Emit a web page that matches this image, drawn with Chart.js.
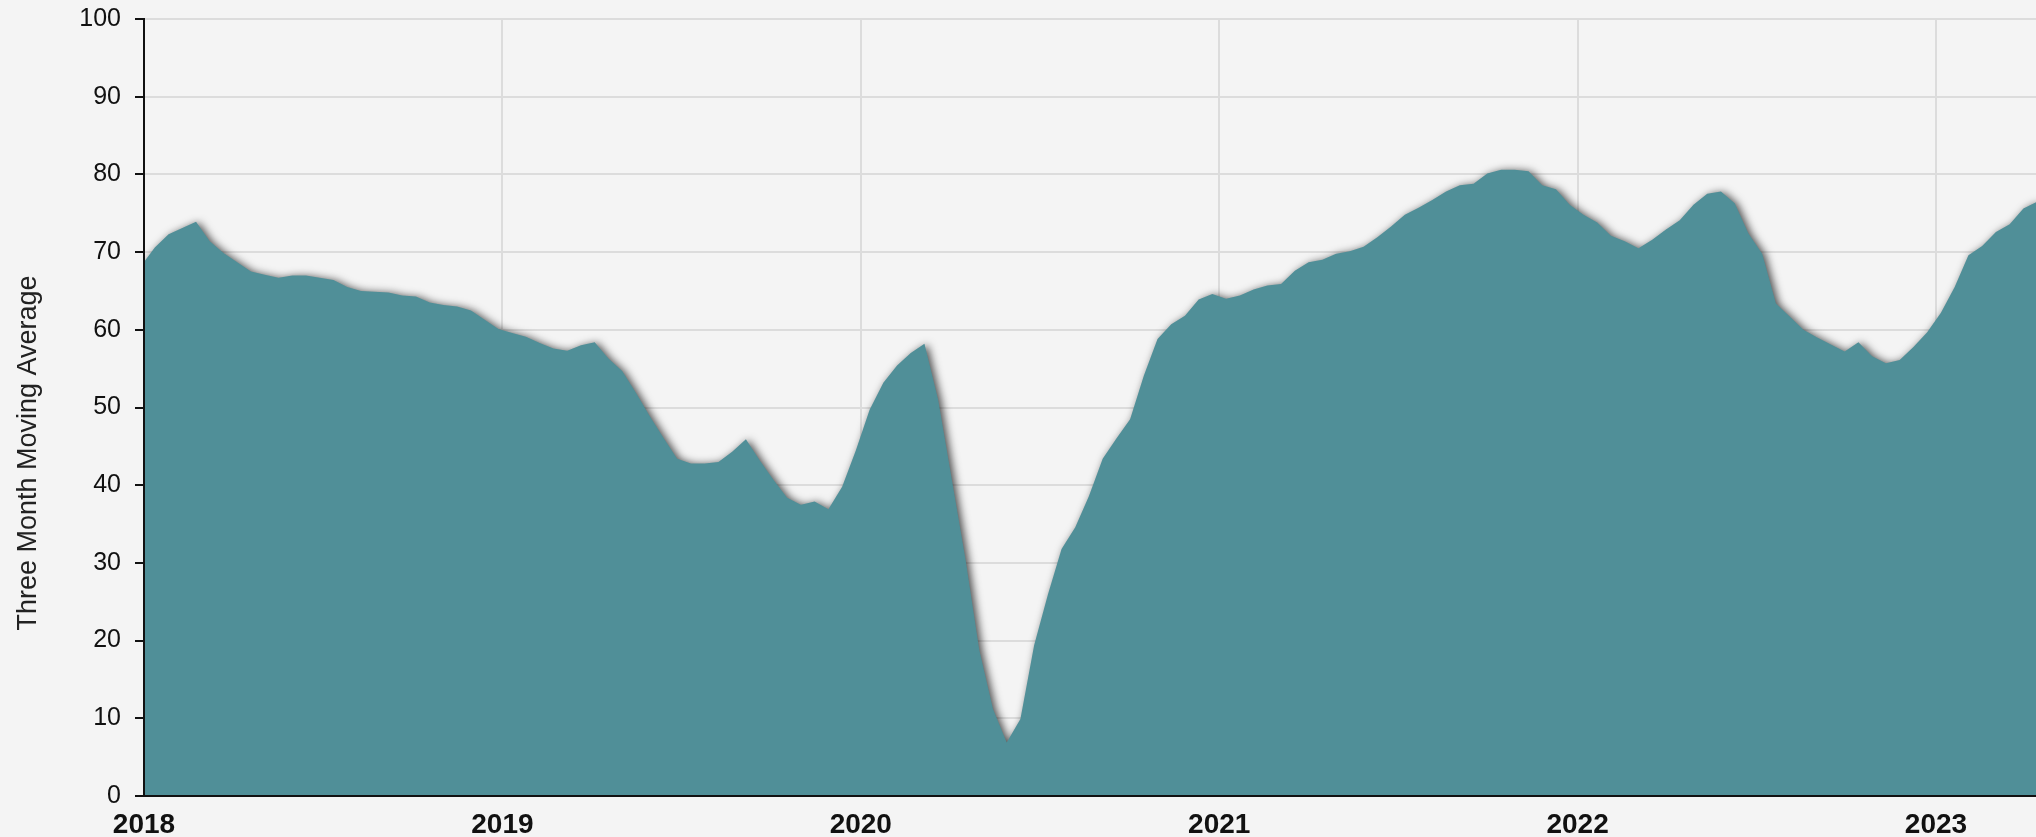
<!DOCTYPE html>
<html>
<head>
<meta charset="utf-8">
<script src="https://cdn.jsdelivr.net/npm/chart.js@4.4.1/dist/chart.umd.min.js"></script>
<style>
  html, body { margin: 0; padding: 0; background: #f4f4f4; }
  canvas { display: block; }
</style>
</head>
<body>
<canvas id="avgChart" width="2036" height="837"></canvas>
<script>
// biweekly readings; the first one falls just before the start of 2018
const startDate = new Date(2017, 11, 29);
const stepDays = 14;
const yearTicks = [2018, 2019, 2020, 2021, 2022, 2023];
const yTitle = 'Three Month Moving Average';

const movingAverage = [
    68.2, 70.6, 72.3, 73.1, 73.9, 71.4, 69.9, 68.7, 67.5, 67.1,
    66.7, 67.0, 67.0, 66.7, 66.4, 65.5, 65.0, 64.9, 64.8, 64.4,
    64.3, 63.5, 63.2, 63.0, 62.5, 61.3, 60.1, 59.6, 59.1, 58.3,
    57.6, 57.3, 58.0, 58.4, 56.3, 54.7, 51.9, 48.9, 46.1, 43.4,
    42.8, 42.8, 43.0, 44.3, 45.9, 43.2, 40.7, 38.4, 37.5, 37.9,
    36.9, 39.8, 44.5, 49.7, 53.2, 55.4, 57.0, 58.2, 51.0, 40.7,
    30.4, 18.8, 11.2, 6.9, 9.9, 19.4, 25.9, 31.8, 34.6, 38.6,
    43.4, 46.0, 48.5, 54.1, 58.8, 60.7, 61.8, 63.9, 64.6, 64.0,
    64.4, 65.2, 65.7, 65.9, 67.6, 68.7, 69.0, 69.8, 70.1, 70.7,
    71.9, 73.3, 74.8, 75.7, 76.7, 77.8, 78.6, 78.8, 80.1, 80.6,
    80.6, 80.4, 78.6, 78.1, 76.1, 74.8, 73.8, 72.1, 71.4, 70.5,
    71.6, 72.9, 74.1, 76.1, 77.5, 77.8, 76.3, 72.4, 69.8, 63.4,
    61.7, 60.0, 59.0, 58.1, 57.2, 58.4, 56.6, 55.7, 56.1, 57.8,
    59.7, 62.2, 65.5, 69.6, 70.8, 72.6, 73.6, 75.6, 76.5
];

// dates as fractional years for the linear x axis
function toYear(d) {
    const y = d.getFullYear();
    const start = new Date(y, 0, 1), end = new Date(y + 1, 0, 1);
    return y + (d - start) / (end - start);
}

const points = movingAverage.map((v, i) => {
    const d = new Date(startDate);
    d.setDate(d.getDate() + i * stepDays);
    return { x: toYear(d), y: v };
});

const shadowPlugin = {
    id: 'areaShadow',
    beforeDatasetsDraw(chart) {
        const ctx = chart.ctx;
        ctx.save();
        ctx.shadowColor = 'rgba(0,0,0,0.7)';
        ctx.shadowBlur = 8;
        ctx.shadowOffsetX = 3;
        ctx.shadowOffsetY = 1;
    },
    afterDatasetsDraw(chart) {
        chart.ctx.restore();
    }
};

// axis title sits a bit below the middle of the plot in the original
const yTitlePlugin = {
    id: 'yTitle',
    afterDraw(chart) {
        const ctx = chart.ctx;
        ctx.save();
        ctx.translate(36, 453);
        ctx.rotate(-Math.PI / 2);
        ctx.font = '27px "Liberation Sans", Arial, sans-serif';
        ctx.fillStyle = '#222';
        ctx.textAlign = 'center';
        ctx.textBaseline = 'alphabetic';
        ctx.fillText(yTitle, 0, 0);
        ctx.restore();
    }
};

const ctx = document.getElementById('avgChart').getContext('2d');
new Chart(ctx, {
    type: 'line',
    data: {
        datasets: [{
            data: points,
            fill: 'origin',
            backgroundColor: '#508f98',
            borderWidth: 0,
            pointRadius: 0,
            tension: 0
        }]
    },
    options: {
        responsive: false,
        animation: false,
        devicePixelRatio: 1,
        layout: { padding: 0 },
        plugins: { legend: { display: false }, tooltip: { enabled: false } },
        scales: {
            x: {
                type: 'linear',
                min: 2018,
                max: 2023.279,
                afterBuildTicks: scale => { scale.ticks = yearTicks.map(v => ({ value: v })); },
                afterFit: scale => { scale.height = 41; },
                grid: { color: '#dcdcdc', lineWidth: 2, drawTicks: false },
                border: { color: '#111', width: 2, z: 1 },
                ticks: {
                    padding: 12,
                    color: '#111',
                    font: { family: 'Liberation Sans, Arial, sans-serif', size: 28, weight: 'bold' },
                    callback: v => String(v)
                }
            },
            y: {
                min: 0,
                max: 100,
                afterFit: scale => {
                    scale.width = 144;
                    scale.paddingTop = 19;
                    scale.paddingBottom = 0;
                },
                grid: { color: '#dcdcdc', lineWidth: 2, tickLength: 9, tickColor: '#111' },
                border: { color: '#111', width: 2, z: 1 },
                ticks: {
                    stepSize: 10,
                    padding: 14,
                    color: '#111',
                    font: { family: 'Liberation Sans, Arial, sans-serif', size: 25 }
                },
                title: { display: false }
            }
        }
    },
    plugins: [shadowPlugin, yTitlePlugin]
});
</script>
</body>
</html>
